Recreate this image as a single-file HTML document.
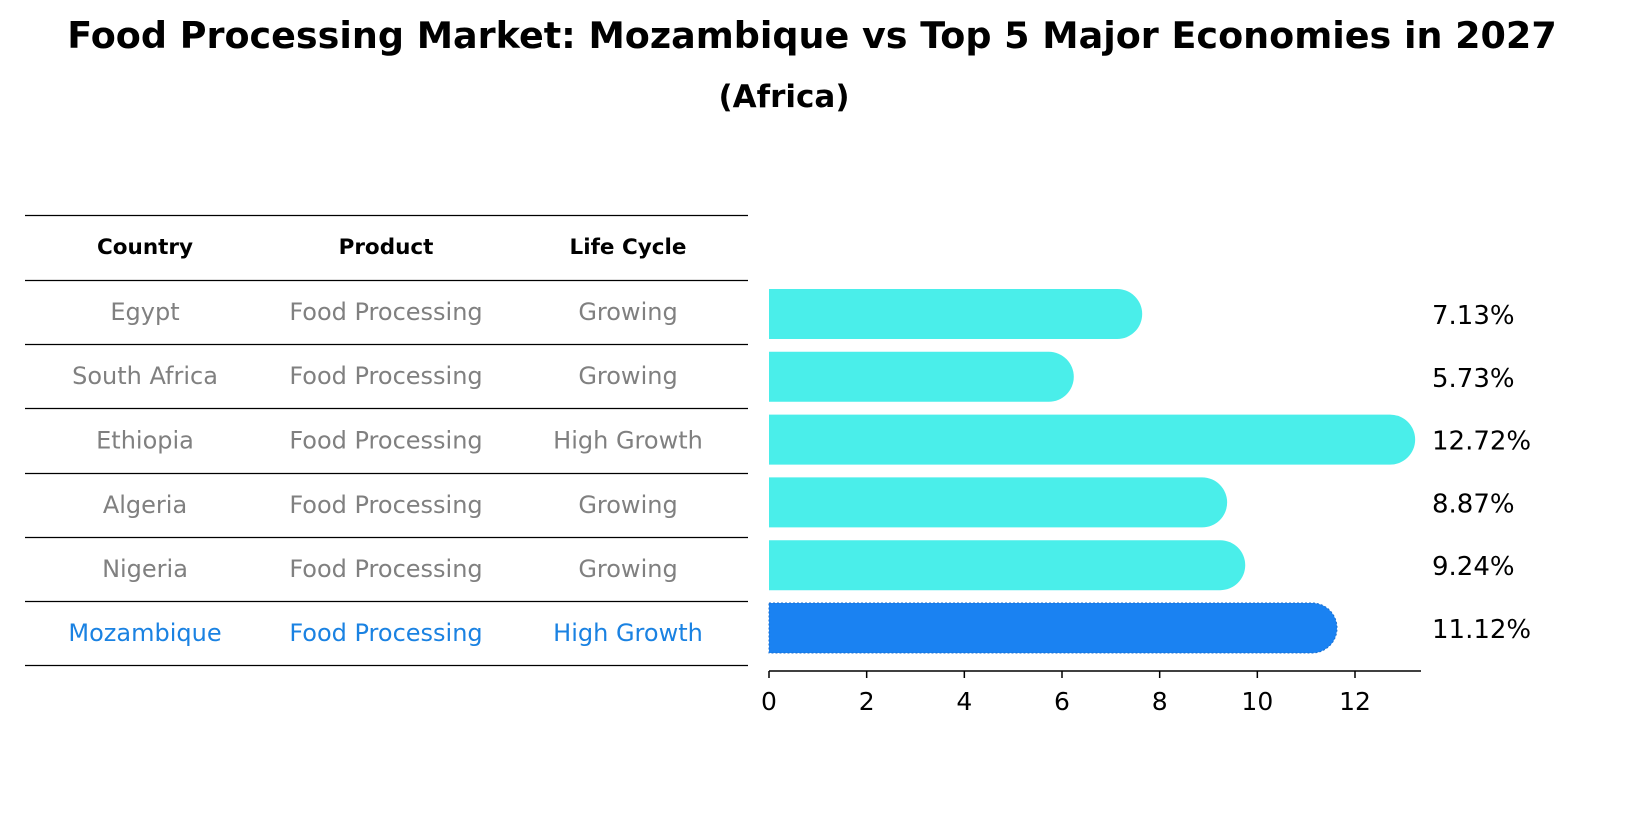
<!DOCTYPE html>
<html><head><meta charset="utf-8"><style>
body{margin:0;background:#fff;}
svg text{font-family:"DejaVu Sans","Liberation Sans",sans-serif;}
</style></head><body>
<svg id="chart" width="1625" height="823" viewBox="0 0 1625 823" xmlns="http://www.w3.org/2000/svg">
<text x="812" y="48" text-anchor="middle" font-size="36.5" font-weight="bold">Food Processing Market: Mozambique vs Top 5 Major Economies in 2027</text>
<text x="784" y="107" text-anchor="middle" font-size="31" font-weight="bold">(Africa)</text>
<g id="table"></g>
<g id="bars"></g>
</svg>
<script>
const countries=["Egypt","South Africa","Ethiopia","Algeria","Nigeria","Mozambique"];
const products=["Food Processing","Food Processing","Food Processing","Food Processing","Food Processing","Food Processing"];
const lifeCycles=["Growing","Growing","High Growth","Growing","Growing","High Growth"];
const growthValues=[7.13,5.73,12.72,8.87,9.24,11.12];
const xTicks=[0,2,4,6,8,10,12];

const NS="http://www.w3.org/2000/svg";
function mk(tag,attrs,parent,text){const e=document.createElementNS(NS,tag);for(const k in attrs)e.setAttribute(k,attrs[k]);if(text!==undefined)e.textContent=text;parent.appendChild(e);return e;}
const x0=769,pxPerUnit=(1355-769)/12;
const xScale=v=>x0+v*pxPerUnit;
const rowY=i=>314+i*62.8;
const hl=i=>countries[i]==="Mozambique";

const tbl=document.getElementById('table');
const lineYs=[215,280,344,408,473,537,601,665];
lineYs.forEach((y,i)=>{const l=mk('line',{x1:25,x2:748,y1:y+0.5,y2:y+0.5,stroke:'#000','stroke-width':1.2},tbl);

});
const colX=[145,386,628];
["Country","Product","Life Cycle"].forEach((h,j)=>{const t=mk('text',{x:colX[j],y:254,'text-anchor':'middle','font-size':21.5,'font-weight':'bold'},tbl,h);

});
countries.forEach((c,i)=>{
  const y=(lineYs[i+1]+lineYs[i+2])/2+8;
  [c,products[i],lifeCycles[i]].forEach((v,j)=>{
    const t=mk('text',{x:colX[j],y:y,'text-anchor':'middle','font-size':24,fill:hl(i)?'#1a82e2':'#808080'},tbl,v);
    
    
  });
});

const g=document.getElementById('bars');
const r=25;
growthValues.forEach((v,i)=>{
  const yc=rowY(i),xe=xScale(v);
  const d=`M${x0},${yc-r} L${xe},${yc-r} A${r},${r} 0 0 1 ${xe},${yc+r} L${x0},${yc+r} Z`;
  const p=mk('path',{d:d,fill:hl(i)?'#1a82f2':'#4aeeea',stroke:hl(i)?'#1a6fd0':'none','stroke-dasharray':hl(i)?'2,2':'none','stroke-width':1},g);
  
  
  const t=mk('text',{x:1432,y:yc+10,'font-size':26},g,v.toFixed(2)+'%');
  
  
});
const ax=mk('line',{x1:x0,x2:1421,y1:671,y2:671,stroke:'#000','stroke-width':1.5},g);


xTicks.forEach(v=>{
  const tk=mk('line',{x1:xScale(v),x2:xScale(v),y1:671,y2:678,stroke:'#000','stroke-width':1.5},g);
  
  
  const t=mk('text',{x:xScale(v),y:710,'text-anchor':'middle','font-size':25},g,String(v));
  
  
});
</script>
</body></html>
